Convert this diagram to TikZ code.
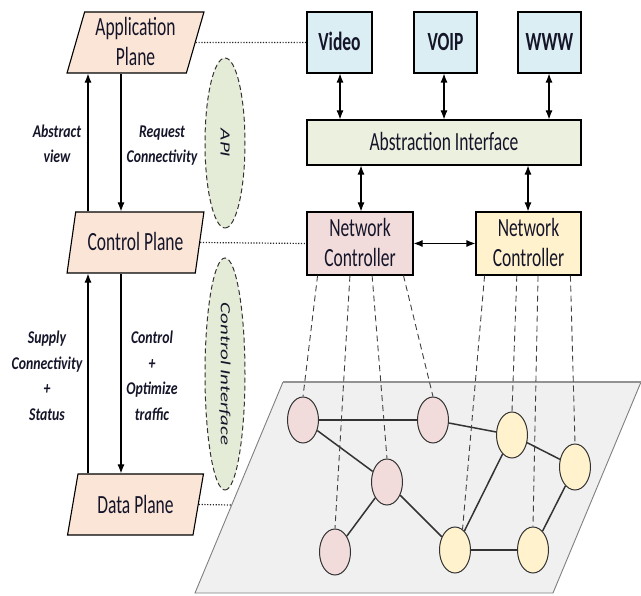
\documentclass[tikz,border=0pt]{standalone}
\usepackage{fontspec}
\setmainfont{Carlito}
\usetikzlibrary{shapes.geometric,arrows.meta,calc}
\definecolor{peach}{HTML}{FBE5D6}
\definecolor{skyb}{HTML}{DAEEF3}
\definecolor{palegreen}{HTML}{EBF1DE}
\definecolor{ellgreen}{HTML}{E4ECD8}
\definecolor{pinkn}{HTML}{F2DCDB}
\definecolor{yelln}{HTML}{FFF2CC}
\definecolor{planefill}{HTML}{F0F0F0}
\definecolor{planeline}{HTML}{7F7F7F}
\definecolor{txt}{HTML}{15152A}
\newcommand{\tall}[1]{\raisebox{-2.5pt}[\height][\depth]{\scalebox{1}[1.5]{\begin{tabular}{@{}c@{}}#1\end{tabular}}}}
\newcommand{\labtext}[1]{\scalebox{1}[1.3]{\begin{tabular}{@{}c@{}}#1\end{tabular}}}
\newcommand{\longtext}[1]{\scalebox{1.5}[1]{#1}}
\begin{document}
\begin{tikzpicture}[x=1pt,y=-1pt,
  plane/.style={trapezium, trapezium left angle=77, trapezium right angle=103,
    trapezium stretches=true, draw=black, line width=1.1pt, fill=peach,
    minimum width=137, minimum height=61, inner sep=0pt,
    text=txt, font=\fontsize{17.5}{20}\selectfont},
  box/.style={draw=black, line width=1.1pt, inner sep=0pt,
    text=txt, font=\fontsize{17.5}{20}\selectfont},
  lbl/.style={text=txt, font=\fontsize{13.8}{19.7}\selectfont\bfseries\itshape},
  ell/.style={ellipse, draw=black!80, dash pattern=on 5pt off 3pt, line width=1pt, fill=ellgreen,
    inner sep=0pt, text=txt, font=\fontsize{14}{18}\selectfont\itshape},
  arr/.style={line width=1.1pt, -{Latex[length=9pt,width=7pt]}},
  darr/.style={line width=1.1pt, {Latex[length=9pt,width=7pt]}-{Latex[length=9pt,width=7pt]}},
  dotl/.style={line width=1.2pt, dash pattern=on 1.2pt off 1.6pt, black!85},
  dashl/.style={dash pattern=on 6pt off 4pt, line width=0.9pt, black!75},
  edge/.style={line width=1.5pt, black!80},
  netnode/.style={ellipse, draw=black!80, line width=1pt, minimum width=31, minimum height=46, inner sep=0pt},
  pnode/.style={netnode, fill=pinkn},
  ynode/.style={netnode, fill=yelln}]
\useasboundingbox (0,0) rectangle (641,596);

% left planes
\node[plane] (app) at (135.5,42.5) {\tall{Application\\Plane}};
\node[plane] (ctrl) at (135.5,242.5) {\tall{Control Plane}};
\node[plane] (data) at (135.5,504.5) {\tall{Data Plane}};

\coordinate (xl) at (88,0);
\coordinate (xr) at (121,0);
\draw[arr] (ctrl.north -| xl) -- (app.south -| xl);
\draw[arr] (app.south -| xr) -- (ctrl.north -| xr);
\draw[arr] (data.north -| xl) -- (ctrl.south -| xl);
\draw[arr] (ctrl.south -| xr) -- (data.north -| xr);

\node[lbl] (l1) at (57,145) {\labtext{Abstract\\view}};
\node[lbl] (l2) at (162,145) {\labtext{Request\\Connectivity}};
\node[lbl] (l3) at (47,377) {\labtext{Supply\\Connectivity\\+\\Status}};
\node[lbl] (l4) at (152,377) {\labtext{Control\\+\\Optimize\\traffic}};

% interface ellipses
\node[ell, rotate=-90, minimum width=170, minimum height=40] (api) at (225,143) {\longtext{API}};
\node[ell, rotate=-90, minimum width=232, minimum height=40] (ci) at (225,374) {\longtext{Control Interface}};

% application boxes
\node[box, fill=skyb, minimum width=65, minimum height=61] (video) at (339.5,42.5) {\tall{\textbf{Video}}};
\node[box, fill=skyb, minimum width=63, minimum height=61] (voip) at (445.5,42.5) {\tall{\textbf{VOIP}}};
\node[box, fill=skyb, minimum width=63, minimum height=61] (www) at (549.5,42.5) {\tall{\textbf{WWW}}};
\node[box, fill=palegreen, minimum width=274, minimum height=45] (ai) at (444,142.5) {\tall{Abstraction Interface}};
\node[box, fill=pinkn, minimum width=106, minimum height=63] (nc1) at (360,243.5) {\tall{Network\\Controller}};
\node[box, fill=yelln, minimum width=105, minimum height=63] (nc2) at (528.5,243.5) {\tall{Network\\Controller}};

\draw[darr] (video.south -| 340,0) -- (ai.north -| 340,0);
\draw[darr] (voip.south -| 444,0) -- (ai.north -| 444,0);
\draw[darr] (www.south -| 549,0) -- (ai.north -| 549,0);
\draw[darr] (ai.south -| 361,0) -- (nc1.north -| 361,0);
\draw[darr] (ai.south -| 528,0) -- (nc2.north -| 528,0);
\draw[darr] (nc1.east) -- (nc2.west);

% network plane
\coordinate (gtl) at (283,382);
\coordinate (gtr) at (641,382);
\coordinate (gbr) at (553,593);
\coordinate (gbl) at (195,593);
\fill[planefill] (gtl) -- (gtr) -- (gbr) -- (gbl) -- cycle;
\draw[planeline, line width=0.9pt] (gtr) -- (gbr) -- (gbl) -- (gtl);
\draw[planeline!85, line width=2.5pt] (gtl) -- (gtr);
\coordinate (dp) at ($(gtl)!0.583!(gbl)$);

% dotted links
\draw[dotl] (app.east) -- (video.west);
\draw[dotl] (ctrl.east) -- (nc1.west);
\draw[dotl] (data.east) -- (dp);

% network nodes
\node[pnode] (p1) at (303,420) {};
\node[pnode] (p2) at (433,420) {};
\node[pnode] (p3) at (387,482) {};
\node[pnode] (p4) at (335,552) {};
\node[ynode] (y1) at (512,435) {};
\node[ynode] (y2) at (575,467) {};
\node[ynode] (y3) at (455,550) {};
\node[ynode] (y4) at (533,550) {};

\draw[edge] (p1) -- (p2);
\draw[edge] (p1) -- (p3);
\draw[edge] (p3) -- (p4);
\draw[edge] (p3) -- (y3);
\draw[edge] (p2) -- (y1);
\draw[edge] (y1) -- (y2);
\draw[edge] (y1) -- (y3);
\draw[edge] (y3) -- (y4);
\draw[edge] (y4) -- (y2);

% controller-to-node dashed links
\coordinate (a1) at ($(nc1.south west)!0.104!(nc1.south east)$);
\coordinate (a2) at ($(nc1.south west)!0.406!(nc1.south east)$);
\coordinate (a3) at ($(nc1.south west)!0.613!(nc1.south east)$);
\coordinate (a4) at ($(nc1.south west)!0.906!(nc1.south east)$);
\coordinate (b1) at ($(nc2.south west)!0.086!(nc2.south east)$);
\coordinate (b2) at ($(nc2.south west)!0.39!(nc2.south east)$);
\coordinate (b3) at ($(nc2.south west)!0.59!(nc2.south east)$);
\coordinate (b4) at ($(nc2.south west)!0.895!(nc2.south east)$);
\draw[dashl] (a1) -- (p1.north);
\draw[dashl] (a2) -- (p4.north);
\draw[dashl] (a3) -- (p3.north);
\draw[dashl] (a4) -- (p2.north);
\draw[dashl] (b1) -- (y3.70);
\draw[dashl] (b2) -- (y1.north);
\draw[dashl] (b3) -- (y4.north);
\draw[dashl] (b4) -- (y2.north);
\end{tikzpicture}
\end{document}
